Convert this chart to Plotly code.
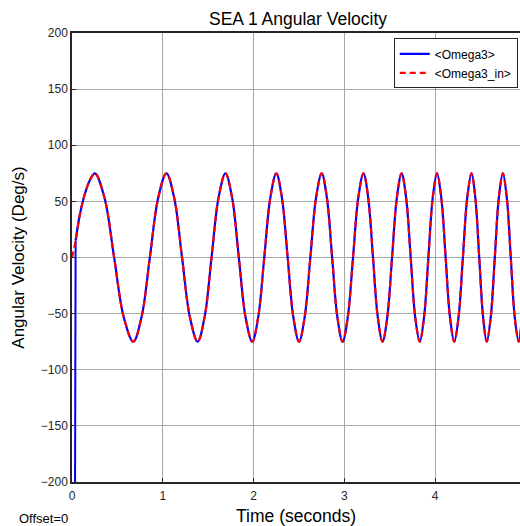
import plotly.graph_objects as go

# Angular velocity samples (time in s, value in deg/s): extrema, zero crossings
# and the shoulders between them along the swept sine.
time_s = [
    0.0, 0.04, 0.088, 0.143, 0.198, 0.253,
    0.3585, 0.464, 0.5695, 0.675,
    0.766, 0.8575, 0.949, 1.04,
    1.126, 1.212, 1.298, 1.384,
    1.4605, 1.537, 1.6135, 1.69,
    1.764, 1.8375, 1.911, 1.985,
    2.051, 2.1175, 2.184, 2.25,
    2.3125, 2.375, 2.4375, 2.50,
    2.5625, 2.625, 2.6875, 2.75,
    2.8075, 2.865, 2.9225, 2.98,
    3.0375, 3.095, 3.1525, 3.21,
    3.2625, 3.315, 3.3675, 3.42,
    3.4725, 3.525, 3.5775, 3.63,
    3.68, 3.73, 3.78, 3.83,
    3.8775, 3.925, 3.9725, 4.02,
    4.0675, 4.115, 4.1625, 4.21,
    4.2575, 4.305, 4.3525, 4.40,
    4.4425, 4.485, 4.5275, 4.568,
    4.612, 4.6565, 4.7005, 4.745,
    4.789, 4.8325, 4.876, 4.92,
    4.955, 4.99, 5.025, 5.06,
]
omega3_in = [
    0, 15, 39, 57, 69, 75,
    53, 0, -53, -75,
    -53, 0, 53, 75,
    53, 0, -53, -75,
    -53, 0, 53, 75,
    53, 0, -53, -75,
    -53, 0, 53, 75,
    53, 0, -53, -75,
    -53, 0, 53, 75,
    53, 0, -53, -75,
    -53, 0, 53, 75,
    53, 0, -53, -75,
    -53, 0, 53, 75,
    53, 0, -53, -75,
    -53, 0, 53, 75,
    53, 0, -53, -75,
    -53, 0, 53, 75,
    53, 0, -53, -75,
    -53, 0, 53, 75,
    53, 0, -53, -75,
    -53, 0, 53, 75,
]

# Measured output: starts saturated low, then locks onto the input from 0.04 s
spike_time = [0.028, 0.034, 0.04]
spike_value = [-400, 12, 15]
omega3_time = time_s[1:]
omega3 = omega3_in[1:]

x_ticks = [0, 1, 2, 3, 4]
y_ticks = [-200, -150, -100, -50, 0, 50, 100, 150, 200]

FONT = "Liberation Sans, Arial, sans-serif"
TXT = "#262626"
PLOT_W, PLOT_H = 520 - 72, 526 - 33 - 44

fig = go.Figure()
fig.add_trace(go.Scatter(
    x=spike_time, y=spike_value, mode="lines",
    line=dict(color="#0000ff", width=2), showlegend=False, hoverinfo="skip",
))
fig.add_trace(go.Scatter(
    x=omega3_time, y=omega3, mode="lines", name="<Omega3>",
    line=dict(color="#0000ff", width=2.2, shape="spline", smoothing=1.0),
))
fig.add_trace(go.Scatter(
    x=time_s, y=omega3_in, mode="lines", name="<Omega3_in>",
    line=dict(color="#ff0000", width=2.2, dash="6px,4px", shape="spline", smoothing=1.0),
))

fig.update_layout(
    width=520, height=526,
    margin=dict(l=72, r=0, t=33, b=44),
    paper_bgcolor="white", plot_bgcolor="white",
    font=dict(family=FONT, color=TXT, size=12),
    title=dict(text="SEA 1 Angular Velocity", x=298 / 520, xanchor="center",
               y=1 - 19 / 526, yanchor="middle", font=dict(size=17.5, color="#000000")),
    showlegend=True,
    legend=dict(
        x=0.995, xanchor="right", y=0.988, yanchor="top",
        bgcolor="white", bordercolor="#262626", borderwidth=1,
        font=dict(size=12, color="#000000"), itemwidth=30,
        tracegroupgap=0, traceorder="normal",
    ),
    xaxis=dict(
        range=[0, 4.934], tickvals=x_ticks, ticktext=[str(v) for v in x_ticks],
        showgrid=True, gridcolor="#a8a8a8", gridwidth=1, zeroline=False,
        showline=True, linecolor="#262626", linewidth=1.5, mirror=True,
        ticks="inside", ticklen=4, tickcolor="#262626",
        tickfont=dict(size=12, color=TXT), ticklabelstandoff=2,
        title=dict(text="Time (seconds)", font=dict(size=17.5, color="#000000"), standoff=9),
    ),
    yaxis=dict(
        range=[-200, 200], tickvals=y_ticks, ticktext=[str(v).replace("-", "\u2212") for v in y_ticks],
        showgrid=True, gridcolor="#a8a8a8", gridwidth=1, zeroline=False,
        showline=True, linecolor="#262626", linewidth=1.5,
        ticks="inside", ticklen=4, tickcolor="#262626",
        tickfont=dict(size=12, color=TXT),
        title=dict(text="Angular Velocity (Deg/s)", font=dict(size=17, color="#000000"), standoff=12),
    ),
    annotations=[dict(
        text="Offset=0", xref="paper", yref="paper", x=(17 - 72) / PLOT_W, y=-36 / PLOT_H,
        xanchor="left", yanchor="middle", showarrow=False,
        font=dict(size=13, color="#000000"),
    )],
)

fig.write_html("out.html")
